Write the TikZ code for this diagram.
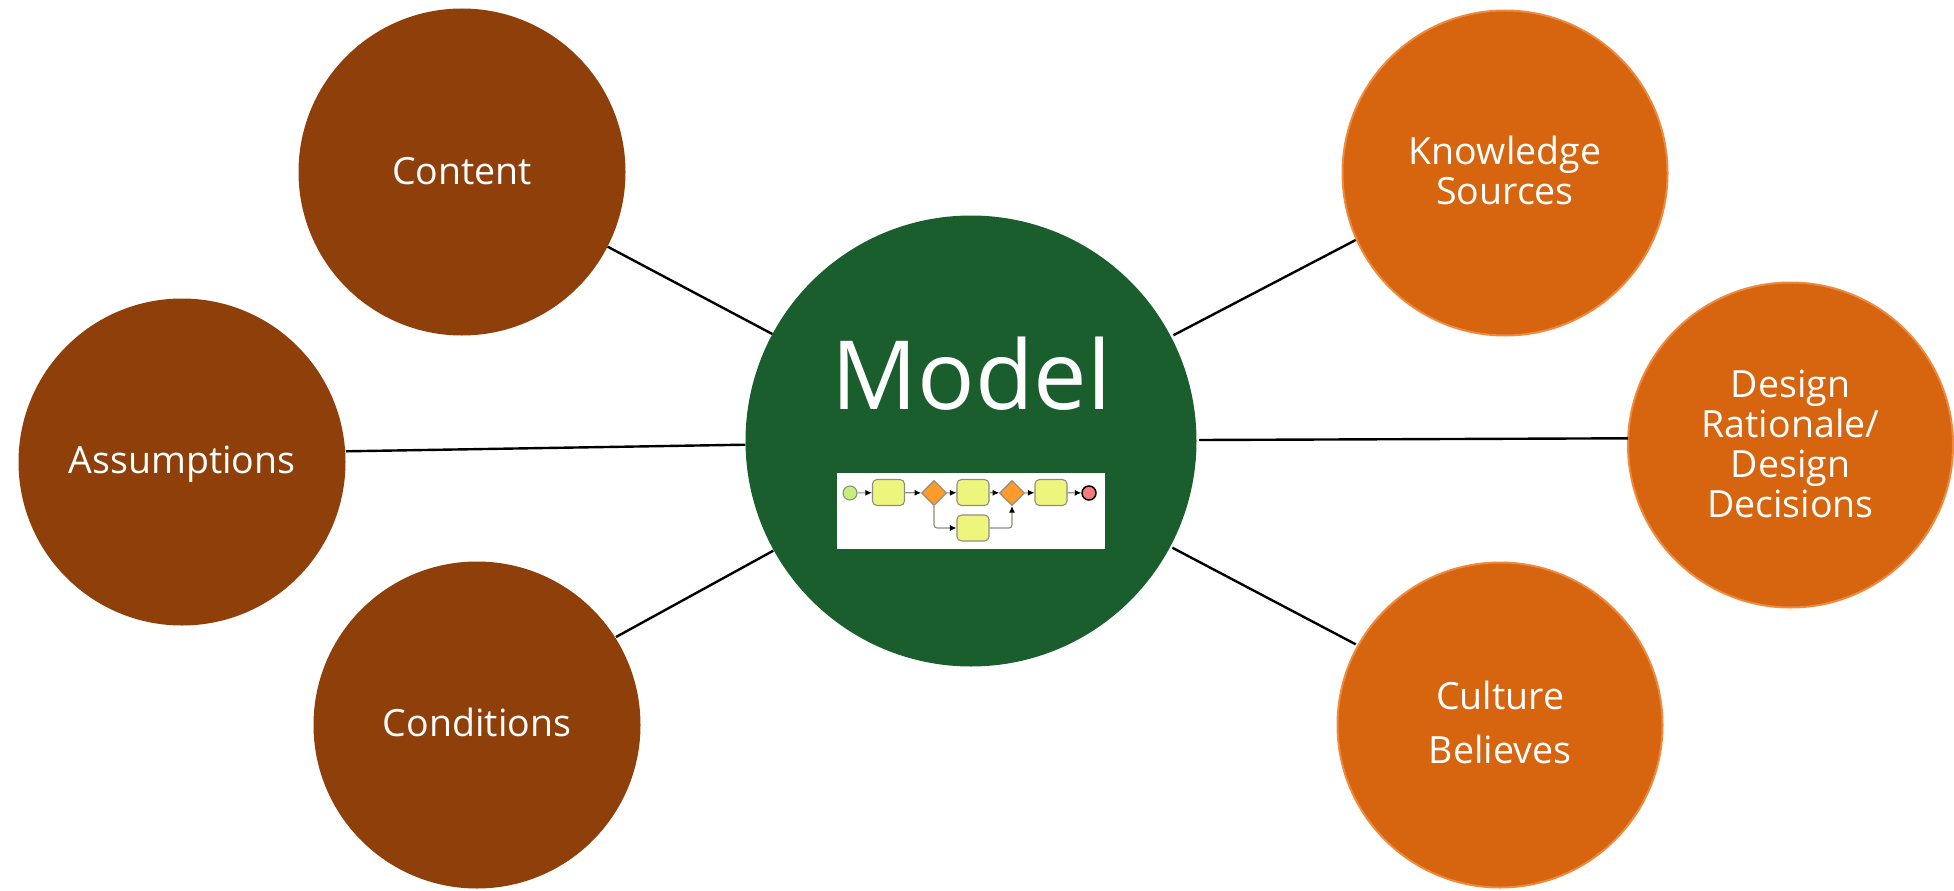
\documentclass[tikz,border=0pt]{standalone}
\usepackage{fontspec}
\setmainfont{Open Sans}
\usetikzlibrary{positioning,arrows.meta,shapes.geometric}
\definecolor{brownfill}{HTML}{8F3F0A}
\definecolor{orangefill}{HTML}{D7640F}
\definecolor{orangeline}{HTML}{EE8A40}
\definecolor{greenfill}{HTML}{1B5E2D}
\definecolor{taskfill}{HTML}{EEF57C}
\definecolor{gatefill}{HTML}{FF9A2B}
\definecolor{startfill}{HTML}{C2F07C}
\definecolor{endfill}{HTML}{F57C7C}
\definecolor{flowline}{HTML}{8E8E80}
\begin{document}
\begin{tikzpicture}[x=1pt,y=-1pt,
		topic/.style={circle,minimum size=327pt,inner sep=0pt,outer sep=0pt},
		topictext/.style={text=white,align=center,font=\fontsize{37.5}{40}\selectfont},
		brownnode/.style={topic,fill=brownfill},
		orangenode/.style={topic,fill=orangefill,draw=orangeline,line width=2pt,minimum size=325pt},
		spoke/.style={black,line width=2.4pt},
		task/.style={rectangle,rounded corners=4.5pt,minimum width=32pt,minimum height=26pt,inner sep=0pt,
			fill=taskfill,draw=flowline,line width=1.1pt},
		gate/.style={diamond,minimum size=25pt,inner sep=0pt,fill=gatefill,draw=flowline,line width=1.1pt},
		flow/.style={flowline,line width=1.1pt,-{Latex[black,length=6.5pt,width=6pt]}}]
		
		\useasboundingbox (0,0) rectangle (1954,891);
		
		% hub
		\node[circle,minimum size=451pt,inner sep=0pt,outer sep=0pt,fill=greenfill] (model) at (971,441) {};
		\node[text=white,font=\fontsize{95.5}{100}\selectfont] (modeltext) at (971.5,374) {Model};
		
		% left side
		\node[brownnode,label={[topictext,yshift=1pt]center:Content}] (content) at (462,172) {};
		\node[brownnode,label={[topictext,yshift=-2.5pt]center:Assumptions}] (assumptions) at (182,462) {};
		\node[brownnode,label={[topictext,yshift=2.5pt]center:Conditions}] (conditions) at (477,725) {};
		
		% right side
		\node[orangenode,label={[topictext,yshift=3pt]center:Knowledge\\Sources}] (knowledge) at (1505,173) {};
		\node[orangenode,label={[topictext,yshift=1.5pt]center:Design\\Rationale/\\Design\\Decisions}] (rationale) at (1790.5,445) {};
		\node[orangenode,label={[topictext,yshift=3pt]center:Culture\\[14pt]Believes}] (culture) at (1500,725) {};
		
		% spokes, measured from the centres
		\draw[spoke] ([shift={(145.7,74.7)}]content.center) -- ([shift={(-198.7,-107)}]model.center);
		\draw[spoke] ([shift={(164,-10.7)}]assumptions.center) -- ([shift={(-225.7,3.7)}]model.center);
		\draw[spoke] ([shift={(139,-88)}]conditions.center) -- ([shift={(-197.7,109.7)}]model.center);
		\draw[spoke] ([shift={(-149.3,67)}]knowledge.center) -- ([shift={(202.3,-105.7)}]model.center);
		\draw[spoke] ([shift={(-162.5,-6.7)}]rationale.center) -- ([shift={(228,-1)}]model.center);
		\draw[spoke] ([shift={(-144.3,-80.7)}]culture.center) -- ([shift={(201.3,106.7)}]model.center);
		
		% process sketch
		\node[rectangle,fill=white,minimum width=268pt,minimum height=76pt,inner sep=0pt] (sketch) at (971,511) {};
		\node[circle,minimum size=14pt,inner sep=0pt,fill=startfill,draw=flowline,line width=1.1pt] (start) at (850,493) {};
		\node[task] (taska) at (888.5,492.5) {};
		\node[gate] (gatea) at (934,493) {};
		\node[task] (taskb) at (973,492.5) {};
		\node[gate] (gateb) at (1012,493) {};
		\node[task] (taskc) at (1051,492.5) {};
		\node[circle,minimum size=14pt,inner sep=0pt,fill=endfill,draw=black,line width=1.5pt] (stop) at (1089,493) {};
		\node[task] (taskd) at (973,528) {};
		
		\draw[flow] (start) -- (taska);
		\draw[flow] (taska) -- (gatea);
		\draw[flow] (gatea) -- (taskb);
		\draw[flow] (taskb) -- (gateb);
		\draw[flow] (gateb) -- (taskc);
		\draw[flow] (taskc) -- (stop);
		\draw[flow,rounded corners=3pt] (gatea.south) |- (taskd.west);
		\draw[flow,rounded corners=3pt] (taskd.east) -| (gateb.south);
\end{tikzpicture}
\end{document}
